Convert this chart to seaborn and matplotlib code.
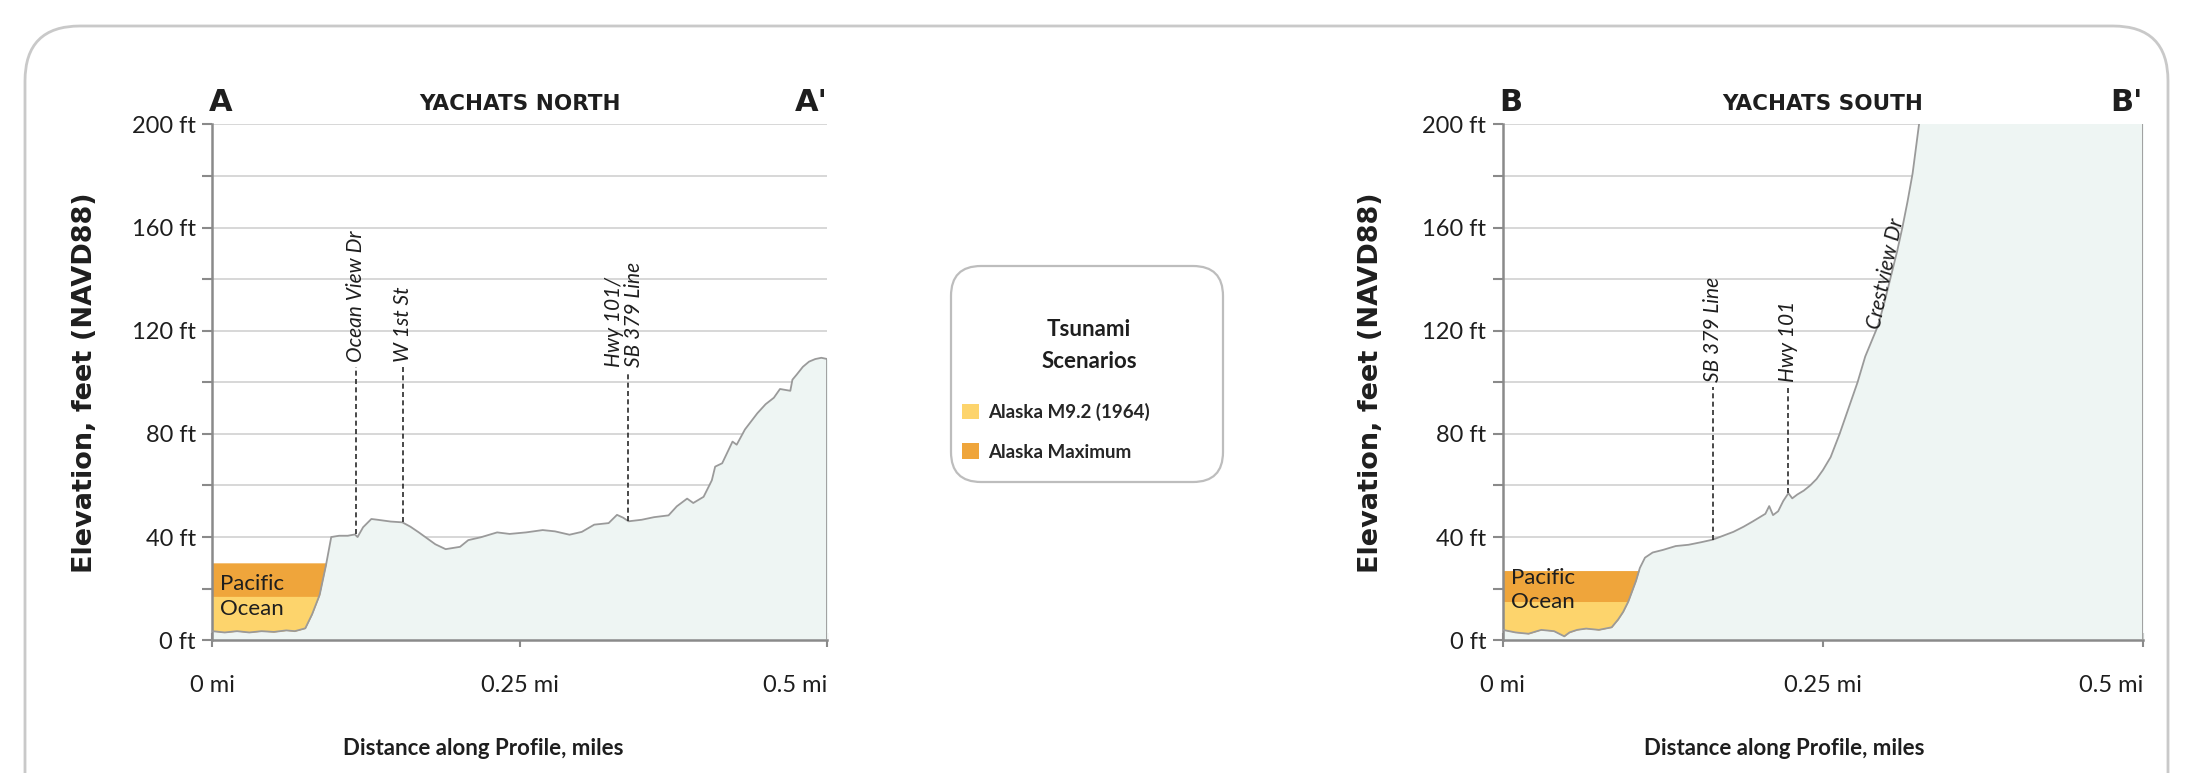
import numpy as np
import matplotlib
matplotlib.use("Agg")
import matplotlib.pyplot as plt
from matplotlib.patches import FancyBboxPatch
import seaborn as sns

# ---- data ----
north_mi = [0.000, 0.010, 0.020, 0.030, 0.040, 0.050, 0.060, 0.067, 0.0755, 0.081, 0.0872, 0.0923,
            0.0966, 0.103, 0.110, 0.1158, 0.118, 0.1225, 0.1292, 0.1342, 0.145, 0.1544, 0.161, 0.1678,
            0.1812, 0.1896, 0.2013, 0.208, 0.2181, 0.2315, 0.2416, 0.255, 0.2685, 0.2785, 0.2903, 0.3003,
            0.3104, 0.3221, 0.3289, 0.3339, 0.3383, 0.349, 0.359, 0.3708, 0.3775, 0.3859, 0.3909, 0.3993,
            0.406, 0.4087, 0.4144, 0.4228, 0.4262, 0.4329, 0.443, 0.4497, 0.4564, 0.4614, 0.4698, 0.4715,
            0.475, 0.480, 0.485, 0.490, 0.495, 0.500]
north_ft = [3.5, 3.0, 3.5, 3.0, 3.5, 3.2, 3.8, 3.5, 4.6, 10, 17.6, 29,
            40, 40.5, 40.5, 41, 40, 43.8, 47, 46.7, 46, 45.7, 44, 41.8,
            37.2, 35.3, 36.2, 38.8, 39.9, 41.8, 41.2, 41.8, 42.7, 42.2, 40.9, 42,
            44.8, 45.4, 48.6, 47.5, 46.1, 46.7, 47.7, 48.4, 51.9, 54.9, 53.2, 55.6,
            62, 67.3, 68.6, 77, 75.8, 81.7, 88, 91.5, 94, 97.4, 96.7, 101,
            103, 106, 108, 109, 109.5, 109]

south_mi = [0, 0.01, 0.02, 0.03, 0.04, 0.048, 0.052, 0.058, 0.065, 0.075, 0.085, 0.09, 0.094, 0.098,
            0.101, 0.104, 0.107, 0.111, 0.117, 0.125, 0.135, 0.145, 0.155, 0.164, 0.172, 0.18, 0.188,
            0.195, 0.2, 0.205, 0.208, 0.211, 0.215, 0.219, 0.223, 0.226, 0.23, 0.235, 0.24, 0.245, 0.25,
            0.256, 0.263, 0.27, 0.277, 0.283, 0.288, 0.293, 0.298, 0.303, 0.308, 0.312, 0.316, 0.32,
            0.325, 0.33, 0.34, 0.36, 0.4, 0.45, 0.5]
south_ft = [4, 3, 2.5, 4, 3.5, 1.5, 3, 4, 4.5, 4, 5, 8, 11, 15,
            19, 23, 28, 32, 34, 35, 36.5, 37, 38, 39, 40.5, 42, 44,
            46, 47.5, 49, 52, 48.5, 50, 54, 57, 55, 56.5, 58, 60, 62.5, 66,
            71, 80, 90, 100, 110, 116, 122, 131, 141, 151, 160, 170, 181,
            200, 212, 228, 245, 260, 270, 280]

# tsunami inundation levels over the ocean (ft)
north_m92_ft = 17
north_max_ft = 30
south_m92_ft = 15
south_max_ft = 27

# street markers: position (mi), base (ft), top (ft), label
north_streets_mi = [0.117, 0.155, 0.338]
north_streets_base = [41, 45.7, 46.1]
north_streets_top = [106, 106, 104]
north_streets_lbl = ["Ocean View Dr", "W 1st St", "Hwy 101/\nSB 379 Line"]

south_streets_mi = [0.164, 0.223]
south_streets_base = [39, 57]
south_streets_top = [98, 98]
south_streets_lbl = ["SB 379 Line", "Hwy 101"]

y_ticks = [0, 40, 80, 120, 160, 200]
y_tick_labels = ["0 ft", "40 ft", "80 ft", "120 ft", "160 ft", "200 ft"]
y_minor = [20, 60, 100, 140, 180]
x_ticks = [0, 0.25, 0.5]
x_tick_labels = ["0 mi", "0.25 mi", "0.5 mi"]

scenario_labels = ["Alaska M9.2 (1964)", "Alaska Maximum"]

YELLOW = "#FDD46C"
ORANGE = "#EFA53B"
TERRAIN = "#EEF5F3"
TXT = "#1e1e1e"

sns.set_theme(style="white")
plt.rcParams["font.family"] = ["Lato", "DejaVu Sans"]

fig = plt.figure(figsize=(21.92, 7.73), dpi=100)

# background frame in pixel units
bg = fig.add_axes([0, 0, 1, 1], zorder=-5)
bg.set_xlim(0, 2192)
bg.set_ylim(0, 773)
bg.axis("off")
bg.add_patch(FancyBboxPatch((25, -120), 2143, 867, boxstyle="round,pad=0,rounding_size=55",
                            fc="white", ec="#c9c9c9", lw=2))
bg.add_patch(FancyBboxPatch((951, 291), 272, 216, boxstyle="round,pad=0,rounding_size=30",
                            fc="white", ec="#bdbdbd", lw=1.6))


def draw_profile(ax, mi, ft, m92, mx, streets, letter, title, ocean_y):
    mi = np.array(mi)
    ft = np.array(ft)
    ax.set_xlim(0, 0.5)
    ax.set_ylim(0, 200)
    for g in range(20, 201, 20):
        ax.axhline(g, color="#d4d4d4", lw=1.3, zorder=0)
    ax.fill_between(mi, 0, ft, color=TERRAIN, lw=0, zorder=1)
    p_max = ax.fill_between(mi, ft, mx, where=ft < mx, interpolate=True, color=ORANGE, lw=0, zorder=2)
    p_m92 = ax.fill_between(mi, ft, m92, where=ft < m92, interpolate=True, color=YELLOW, lw=0, zorder=2)
    sns.lineplot(x=mi, y=ft, ax=ax, color="#9a9a9a", lw=1.3, zorder=3)
    ax.plot([0.5, 0.5], [0, ft[-1]], color="#9a9a9a", lw=1.3, zorder=3)

    xs, base, top, lbl = streets
    ax.vlines(xs, base, top, colors="#2a2a2a", linestyles=(0, (3, 2)), lw=1.2, zorder=3)

    ax.set_yticks(y_ticks)
    ax.set_yticklabels(y_tick_labels)
    ax.set_yticks(y_minor, minor=True)
    ax.set_xticks(x_ticks)
    ax.set_xticklabels(x_tick_labels)
    ax.get_xticklabels()[-1].set_horizontalalignment("right")
    ax.tick_params(axis="y", which="both", direction="out", length=7, width=1.5, color="#8a8a8a",
                   labelsize=17, labelcolor=TXT, pad=5, left=True)
    ax.tick_params(axis="x", direction="inout", length=10, width=1.5, color="#8a8a8a",
                   labelsize=17, labelcolor=TXT, pad=20, bottom=True)
    for s in ["top", "right"]:
        ax.spines[s].set_visible(False)
    for s in ["left", "bottom"]:
        ax.spines[s].set_color("#8a8a8a")
        ax.spines[s].set_linewidth(1.8)

    ax.set_ylabel("Elevation, feet (NAVD88)", fontsize=19.5, weight="bold", family="DejaVu Sans", color=TXT)
    ax.yaxis.set_label_coords(-0.186, 0.5)
    ax.set_xlabel("Distance along Profile, miles", fontsize=16, weight="bold", color=TXT)
    ax.xaxis.set_label_coords(0.44, -0.19)

    ax.text(-0.005, 1.015, letter, transform=ax.transAxes, ha="left", va="bottom",
            fontsize=22, weight="bold", family="DejaVu Sans", color=TXT)
    ax.text(1.0, 1.015, letter + "'", transform=ax.transAxes, ha="right", va="bottom",
            fontsize=22, weight="bold", family="DejaVu Sans", color=TXT)
    ax.text(0.5, 1.02, title, transform=ax.transAxes, ha="center", va="bottom",
            fontsize=15.5, weight="bold", family="DejaVu Sans", color=TXT)
    ax.text(0.006, ocean_y, "Pacific\nOcean", ha="left", va="center", fontsize=16,
            color=TXT, linespacing=1.3, zorder=4)
    return p_m92, p_max


axL = fig.add_axes([0.0969, 0.1718, 0.2806, 0.6673])
axR = fig.add_axes([0.6856, 0.1718, 0.2921, 0.6673])

h_m92, h_max = draw_profile(axL, north_mi, north_ft, north_m92_ft, north_max_ft,
                            (north_streets_mi, north_streets_base, north_streets_top, north_streets_lbl),
                            "A", "YACHATS NORTH", 17)
draw_profile(axR, south_mi, south_ft, south_m92_ft, south_max_ft,
             (south_streets_mi, south_streets_base, south_streets_top, south_streets_lbl),
             "B", "YACHATS SOUTH", 19.5)

# street labels
for x, top, lbl in zip(north_streets_mi, north_streets_top, north_streets_lbl):
    two = "\n" in lbl
    axL.text(x + (0.013 if two else 0), top + 2, lbl, rotation=90, ha="right" if two else "center",
             va="bottom", fontsize=15, style="italic", color=TXT, multialignment="left",
             linespacing=1.0, zorder=4)
for x, top, lbl in zip(south_streets_mi, south_streets_top, south_streets_lbl):
    axR.text(x, top + 2, lbl, rotation=90, ha="center", va="bottom", fontsize=15,
             style="italic", color=TXT, zorder=4)
axR.text(0.299, 142, "Crestview Dr", rotation=78, ha="center", va="center", fontsize=15,
         style="italic", color=TXT, zorder=4)

# legend
fig.text(0.4968, 0.553, "Tsunami\nScenarios", ha="center", va="center", fontsize=16,
         weight="bold", color=TXT, linespacing=1.7)
fig.legend([h_m92, h_max], scenario_labels, loc="upper left", bbox_to_anchor=(0.4388, 0.479),
           frameon=False, borderpad=0, borderaxespad=0, handlelength=0.9, handleheight=0.9,
           handletextpad=0.5, labelspacing=1.2, prop={"family": "Lato", "weight": "bold", "size": 13.5})

fig.savefig("out.png", dpi=100)
